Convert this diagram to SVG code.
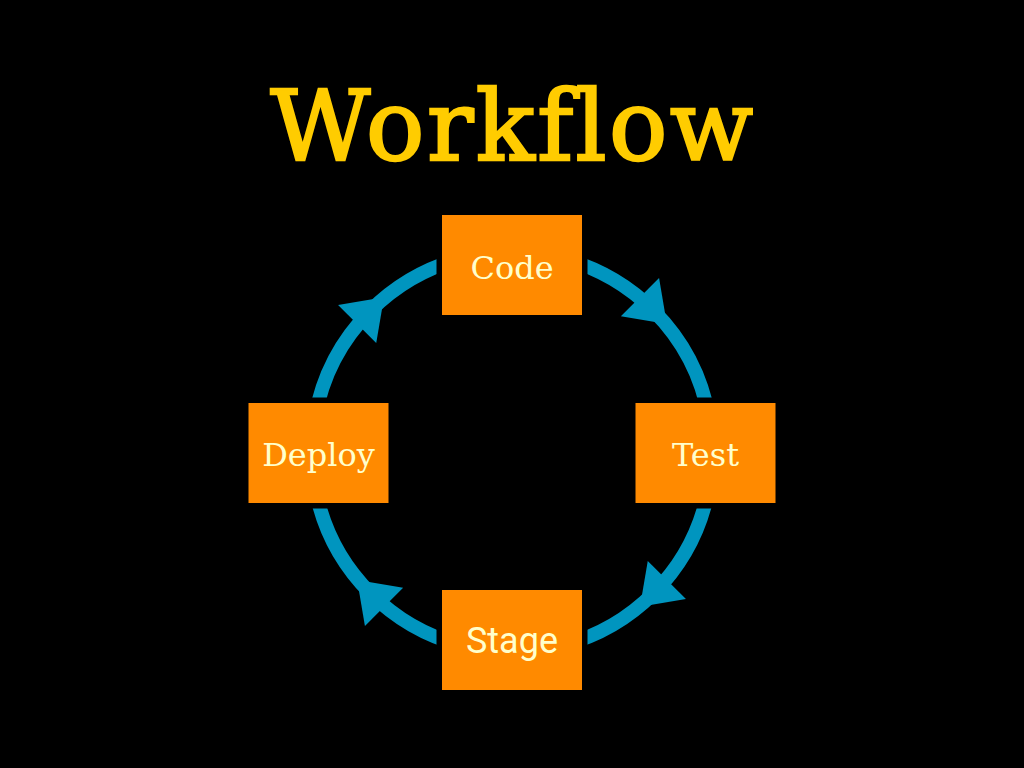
<svg xmlns="http://www.w3.org/2000/svg" width="1024" height="768" viewBox="0 0 1024 768">
  <style>
    .arc { fill: none; stroke: #0095BF; stroke-width: 14; marker-mid: url(#arrow); }
    .box { fill: #FF8A00; stroke: #000000; stroke-width: 11; paint-order: stroke; }
    .slab { font-family: "DejaVu Serif", "Liberation Serif", serif; font-size: 32px; fill: #FFFFCC; text-anchor: middle; }
    .sans { font-family: Roboto, "Liberation Sans", sans-serif; font-size: 36px; fill: #FFFFCC; text-anchor: middle; }
    .title { font-family: "DejaVu Serif", "Liberation Serif", serif; font-size: 97px; letter-spacing: 2.5px; font-variant-ligatures: none; fill: #FFCC00; stroke: #FFCC00; stroke-width: 2.5; text-anchor: middle; }
  </style>
  <defs>
    <marker id="arrow" markerUnits="userSpaceOnUse" viewBox="-20 -28 40 56" markerWidth="40" markerHeight="56" refX="0" refY="0" orient="auto" overflow="visible">
      <path d="M19,0 L-19,-27 L-19,27 Z" fill="#0095BF"/>
    </marker>
  </defs>
  <rect x="0" y="0" width="1024" height="768" fill="#000000"/>
  <text id="title" class="title" x="513" y="160">Workflow</text>
  <g id="connectors">
    <path id="code-test" class="arc" d="M563.76,258.82 A200,200 0 0 1 653.42,310.58 A200,200 0 0 1 708.96,417.27"/>
    <path id="test-stage" class="arc" d="M708.96,486.73 A200,200 0 0 1 653.42,593.42 A200,200 0 0 1 563.76,645.18"/>
    <path id="stage-deploy" class="arc" d="M460.24,645.18 A200,200 0 0 1 370.58,593.42 A200,200 0 0 1 315.04,486.73"/>
    <path id="deploy-code" class="arc" d="M315.04,417.27 A200,200 0 0 1 370.58,310.58 A200,200 0 0 1 460.24,258.82"/>
  </g>
  <g id="node-code">
    <rect class="box" x="442" y="215" width="140" height="100"/>
    <text class="slab" x="512" y="279">Code</text>
  </g>
  <g id="node-test">
    <rect class="box" x="635.5" y="403" width="140" height="100"/>
    <text class="slab" x="705.5" y="466">Test</text>
  </g>
  <g id="node-stage">
    <rect class="box" x="442" y="590" width="140" height="100"/>
    <text class="sans" x="512" y="653">Stage</text>
  </g>
  <g id="node-deploy">
    <rect class="box" x="248.5" y="403" width="140" height="100"/>
    <text class="slab" x="318.5" y="466">Deploy</text>
  </g>
</svg>
